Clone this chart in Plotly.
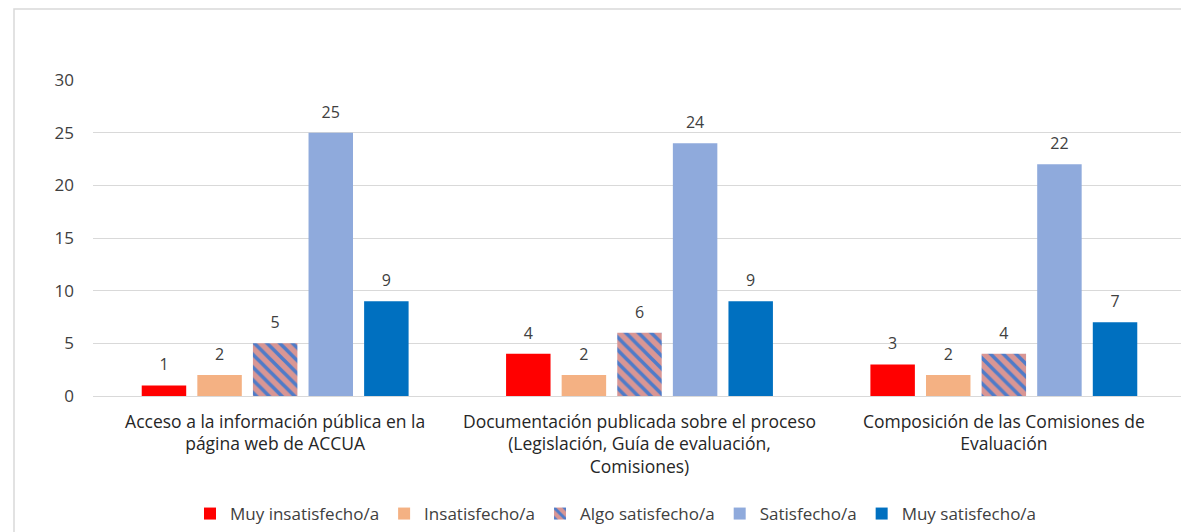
import plotly.graph_objects as go

categories = [
    "Acceso a la información pública en la<br>página web de ACCUA",
    "Documentación publicada sobre el proceso<br>(Legislación, Guía de evaluación,<br>Comisiones)",
    "Composición de las Comisiones de<br>Evaluación",
]
series_names = ["Muy insatisfecho/a", "Insatisfecho/a", "Algo satisfecho/a", "Satisfecho/a", "Muy satisfecho/a"]
muy_insatisfecho = [1, 4, 3]
insatisfecho = [2, 2, 2]
algo_satisfecho = [5, 6, 4]
satisfecho = [25, 24, 22]
muy_satisfecho = [9, 9, 7]
y_ticks = [0, 5, 10, 15, 20, 25, 30]

series_values = [muy_insatisfecho, insatisfecho, algo_satisfecho, satisfecho, muy_satisfecho]
colors = ["#FF0000", "#F4B183", "#D99694", "#8FAADC", "#0070C0"]

FONT = "'Open Sans', sans-serif"
OFF = 8  # page body margin

fig = go.Figure()
for i, (name, vals, col) in enumerate(zip(series_names, series_values, colors)):
    marker = dict(color=col, line=dict(width=0))
    if name == "Algo satisfecho/a":
        marker["pattern"] = dict(shape="\\", fgcolor="#4F7BC8", bgcolor="#D99694",
                                 size=9, solidity=0.4, fillmode="replace")
    fig.add_trace(go.Bar(
        name=name, x=categories, y=vals, marker=marker,
        offsetgroup=str(i), hoverinfo="x+y+name",
    ))
for i, (name, vals) in enumerate(zip(series_names, series_values)):
    fig.add_trace(go.Scatter(
        x=categories, y=vals, mode="markers+text", text=[str(v) for v in vals],
        textposition="top center", offsetgroup=str(i),
        marker=dict(size=16, color="rgba(0,0,0,0)"),
        textfont=dict(family=FONT, size=16, color="#404040"),
        showlegend=False, hoverinfo="skip", cliponaxis=False,
    ))

W, H = 1189 - OFF, 532 - OFF
L, T = 93 - OFF, 80 - OFF
pw, ph = 1093, 316
R, B = W - L - pw, H - T - ph

def px_x(sx):
    return (sx - OFF - L) / pw

def px_y(sy):
    return (T + ph - (sy - OFF)) / ph

fig.update_layout(
    width=W, height=H,
    margin=dict(l=L, r=R, t=T, b=B, autoexpand=False),
    paper_bgcolor="white", plot_bgcolor="white",
    barmode="group", bargap=0.237, bargroupgap=0.2,
    scattermode="group", scattergap=0.237,
    font=dict(family=FONT, size=16, color="#404040"),
    showlegend=True,
    legend=dict(orientation="h", x=px_x(616), xanchor="center",
                y=px_y(514), yanchor="middle",
                font=dict(family=FONT, size=17, color="#404040"),
                itemwidth=30, traceorder="normal"),
    xaxis=dict(showgrid=False, showline=False, ticks="", automargin=False,
               tickfont=dict(family=FONT, size=17.5, color="#262626"),
               ticklabelstandoff=13),
    yaxis=dict(range=[0, 30], tickvals=y_ticks, showgrid=True, gridcolor="#D9D9D9",
               gridwidth=1, zeroline=True, zerolinecolor="#D9D9D9", zerolinewidth=1,
               showline=False, ticks="", ticklabelstandoff=18, automargin=False,
               tickfont=dict(family=FONT, size=17, color="#404040")),
    shapes=[dict(type="rect", xref="paper", yref="paper",
                 x0=px_x(14), x1=1.2, y0=-1.0, y1=px_y(9),
                 line=dict(color="#D9D9D9", width=1.5), fillcolor="rgba(0,0,0,0)",
                 layer="below")],
)

fig.write_html("out.html")
